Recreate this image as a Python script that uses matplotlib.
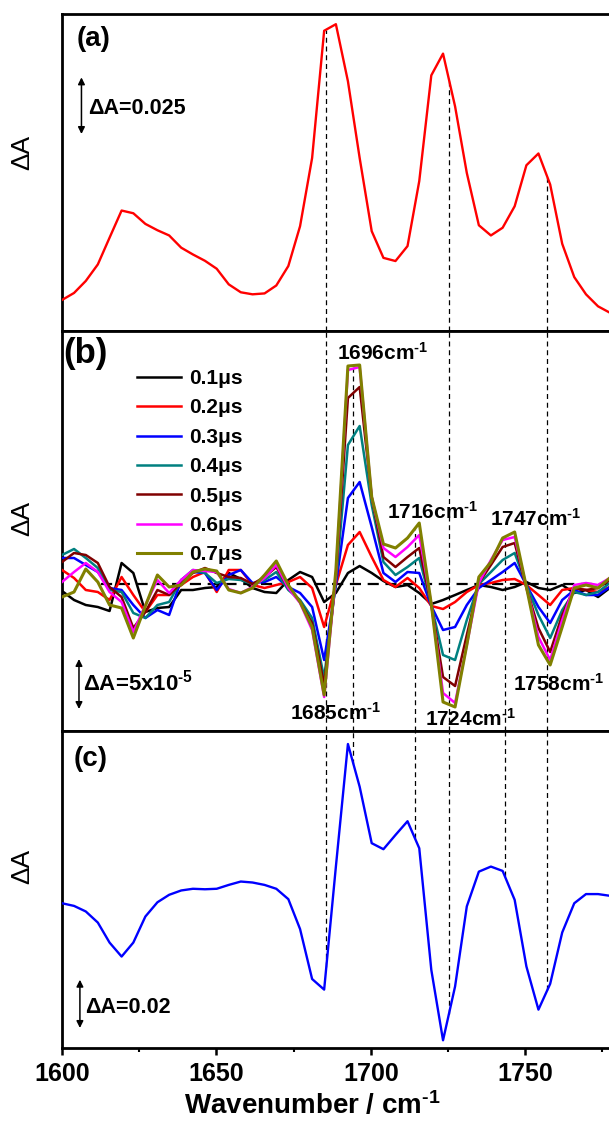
import matplotlib
matplotlib.use('Agg')
import numpy as np
import matplotlib.pyplot as plt

plt.rcParams['font.family'] = ['Liberation Sans', 'DejaVu Sans']
plt.rcParams['font.weight'] = 'bold'
plt.rcParams['mathtext.fontset'] = 'custom'
plt.rcParams['mathtext.rm'] = 'Liberation Sans:bold'
plt.rcParams['mathtext.it'] = 'Liberation Sans:bold'
plt.rcParams['mathtext.bf'] = 'Liberation Sans:bold'

# wavenumber grid (cm-1)
wn = [1600.0, 1603.9, 1607.7, 1611.6, 1615.4, 1619.3, 1623.1, 1627.0, 1630.9, 1634.7,
      1638.6, 1642.4, 1646.3, 1650.1, 1654.0, 1657.9, 1661.7, 1665.6, 1669.4, 1673.3,
      1677.1, 1681.0, 1684.9, 1688.7, 1692.6, 1696.4, 1700.3, 1704.1, 1708.0, 1711.9,
      1715.7, 1719.6, 1723.4, 1727.3, 1731.1, 1735.0, 1738.9, 1742.7, 1746.6, 1750.4,
      1754.3, 1758.1, 1762.0, 1765.9, 1769.7, 1773.6, 1777.4]

# (a) spectrum, dA x 1e3
spec_a = [13.7, 16.8, 22.1, 29.4, 41.2, 53.2, 52.0, 47.3, 44.5, 42.2,
          36.8, 33.8, 31.0, 27.5, 20.6, 17.1, 16.2, 16.6, 20.1, 28.7,
          46.3, 76.4, 132.6, 135.5, 110.3, 76.4, 44.1, 32.3, 30.9, 37.5,
          66.2, 112.9, 122.5, 99.2, 69.8, 46.7, 42.2, 45.6, 55.1, 73.2,
          78.4, 64.7, 38.5, 23.8, 16.2, 10.9, 8.1]

# (b) time-resolved difference spectra, dA x 1e5
delays = ['0.1\u03bcs', '0.2\u03bcs', '0.3\u03bcs', '0.4\u03bcs', '0.5\u03bcs', '0.6\u03bcs', '0.7\u03bcs']
colors_b = ['black', '#ff0000', '#0000ff', '#008080', '#800000', '#ff00ff', '#808000']

b_01 = [-0.7, -1.6, -2.1, -2.3, -2.7, 2.1, 1.1, -2.8, -2.4, -2.3,
        -0.6, -0.6, -0.4, -0.3, 1.1, 0.5, -0.4, -0.8, -0.9, 0.4,
        1.2, 0.7, -1.8, -0.9, 1.1, 1.8, 1.1, 0.3, -0.3, -0.1,
        -0.9, -2.0, -1.6, -1.1, -0.6, -0.1, -0.3, -0.6, -0.3, 0.2,
        -0.4, -0.6, -0.1, -0.9, -0.6, -1.3, -0.4]
b_02 = [1.4, 0.6, -0.6, -0.8, -1.6, 0.7, -1.1, -2.8, -1.1, -1.1,
        -0.1, 0.7, 1.2, -0.8, 1.4, 1.4, -0.1, -0.4, -0.1, 0.2,
        0.7, -0.4, -4.3, -0.1, 3.9, 5.2, 2.7, 0.4, -0.3, 0.6,
        -0.4, -2.2, -2.5, -1.8, -0.8, -0.1, 0.1, 0.4, 0.5, -0.1,
        -1.1, -2.1, -0.6, -0.4, -0.6, -0.8, -0.3]
b_03 = [2.6, 2.6, 1.9, 1.2, -0.4, -0.6, -2.1, -3.4, -2.6, -3.1,
        0.4, 1.2, 1.1, -0.6, 0.9, 1.4, 0.1, 0.2, 0.7, -0.3,
        -0.9, -2.3, -7.6, -0.1, 8.6, 10.2, 5.7, 1.1, 0.2, 1.2,
        1.1, -2.2, -4.6, -4.3, -2.1, -0.4, 0.4, 1.2, 2.1, -0.1,
        -2.3, -3.9, -1.6, -0.6, -1.1, -1.1, -0.3]
b_04 = [2.9, 3.5, 2.6, 1.6, -0.6, -0.8, -2.9, -3.4, -2.1, -1.8,
        0.4, 1.4, 1.1, 0.1, 0.5, 0.4, 0.0, 0.4, 1.2, -0.6,
        -1.6, -3.4, -9.4, 0.2, 13.9, 15.8, 7.9, 2.2, 0.9, 1.7,
        2.6, -2.1, -7.1, -7.6, -3.6, 0.0, 1.2, 2.4, 3.1, -0.1,
        -3.1, -5.4, -2.6, -0.8, -1.1, -0.8, 0.1]
b_05 = [2.2, 3.1, 2.9, 2.1, -0.3, -1.3, -4.4, -2.8, -0.6, -1.1,
        0.1, 1.1, 1.6, 1.1, 0.7, 0.6, 0.0, 0.7, 1.7, -0.4,
        -1.8, -3.9, -10.1, 0.6, 18.6, 19.7, 8.7, 2.7, 1.7, 2.7,
        3.6, -2.1, -9.3, -10.2, -5.1, 0.1, 1.9, 3.7, 4.1, -0.4,
        -4.4, -6.8, -3.1, -0.4, -0.6, -0.4, 0.4]
b_06 = [0.2, 1.2, 2.1, 1.2, -0.8, -1.8, -4.8, -2.1, 0.4, -0.9,
        0.4, 1.4, 1.3, 1.2, -0.5, -0.9, -0.3, 0.6, 1.9, -0.4,
        -1.9, -4.6, -11.3, 0.9, 21.4, 21.7, 8.7, 3.6, 2.7, 3.7,
        4.9, -2.0, -10.9, -11.9, -6.1, 0.1, 2.4, 4.4, 4.7, -0.3,
        -5.3, -7.6, -3.6, -0.1, 0.1, -0.1, 0.6]
b_07 = [-1.3, -0.8, 1.5, 0.2, -2.1, -2.4, -5.4, -2.2, 0.9, -0.3,
        -0.1, 1.2, 1.5, 1.3, -0.6, -0.9, -0.4, 0.9, 2.3, -0.1,
        -1.8, -4.3, -11.1, 1.4, 21.8, 21.9, 8.7, 4.0, 3.6, 4.6,
        6.1, -2.0, -11.8, -12.3, -6.1, 0.7, 2.2, 4.6, 5.2, -0.3,
        -6.1, -8.1, -4.3, -0.4, -0.1, -0.4, 0.6]
series_b = [b_01, b_02, b_03, b_04, b_05, b_06, b_07]

# (c) spectrum, dA x 1e3
spec_c = [60.0, 58.9, 56.6, 52.0, 43.7, 37.9, 43.7, 54.5, 60.4, 63.5,
          65.3, 66.0, 65.8, 66.0, 67.6, 69.0, 68.6, 67.6, 66.0, 61.7,
          49.3, 28.6, 24.2, 75.2, 126.0, 108.3, 84.9, 82.4, 88.3, 94.0,
          82.8, 32.4, 3.2, 25.5, 58.7, 73.1, 75.2, 73.4, 61.4, 33.8,
          15.9, 26.6, 47.9, 60.0, 63.8, 63.8, 63.1]

# positions of the guide lines
full_lines = [1685.6, 1725.3, 1757.2]
peak_lines = [1694.4, 1714.2, 1743.4]

fig = plt.figure(figsize=(6.09, 11.23), dpi=100)
left, width = 62 / 609, (617.8 - 62) / 609
ax_a = fig.add_axes([left, 1 - 331 / 1123, width, 317 / 1123])
ax_b = fig.add_axes([left, 1 - 731 / 1123, width, 400 / 1123])
ax_c = fig.add_axes([left, 1 - 1048 / 1123, width, 317 / 1123])

for ax in (ax_a, ax_b, ax_c):
    ax.set_xlim(1600, 1780)
    for s in ax.spines.values():
        s.set_linewidth(2.0)
    ax.set_yticks([])
    ax.tick_params(axis='x', which='both', bottom=False, labelbottom=False)

ax_a.set_ylim(0, 140)
ax_b.set_ylim(-14.7, 25.3)
ax_c.set_ylim(0, 131.4)

dash_kw = dict(color='black', lw=0.9, linestyle=(0, (4, 3)), zorder=1)
arrow_kw = dict(arrowstyle='<|-|>', lw=1.1, color='black',
                mutation_scale=10, shrinkA=0, shrinkB=0)
sup = '$^{\\text{-1}}$'

# ---- panel (a)
ax_a.plot(wn, spec_a, color='#ff0000', lw=1.7, zorder=3)
for x in full_lines:
    ax_a.vlines(x, 0, np.interp(x, wn, spec_a), **dash_kw)
ax_a.text(1604.8, 129, '(a)', fontsize=20, fontweight='bold', va='center')
ax_a.annotate('', xy=(1606.3, 112), xytext=(1606.3, 87), arrowprops=arrow_kw)
ax_a.text(1608.5, 98.1, '\u0394A=0.025', fontsize=15.5, fontweight='bold', va='center')

# ---- panel (b)
for vals, lab, col in zip(series_b, delays, colors_b):
    ax_b.plot(wn, vals, color=col, lw=2.2 if lab == '0.7\u03bcs' else 1.8, label=lab, zorder=3)
ax_b.hlines(0, 1612.5, 1780, color='black', lw=1.6, linestyle=(0, (5, 3)), zorder=2)
for x in full_lines:
    ax_b.vlines(x, -14.7, 25.3, **dash_kw)
for x in peak_lines:
    ax_b.vlines(x, -14.7, np.interp(x, wn, b_07), **dash_kw)

ax_b.legend(loc='upper left', bbox_to_anchor=(0.135, 0.905), frameon=False,
            handlelength=2.1, handletextpad=0.4, labelspacing=0.5,
            borderpad=0, borderaxespad=0, prop={'weight': 'bold', 'size': 15})
ax_b.text(1600.3, 23.1, '(b)', fontsize=25, fontweight='bold', va='center')

peak_labels = ['1696cm' + sup, '1716cm' + sup, '1747cm' + sup,
               '1685cm' + sup, '1724cm' + sup, '1758cm' + sup]
label_pos = [(1688.9, 23.1), (1705.2, 7.2), (1738.6, 6.5),
             (1673.8, -12.9), (1717.5, -13.5), (1746.2, -10.0)]
for t, (x, y) in zip(peak_labels, label_pos):
    ax_b.text(x, y, t, fontsize=15, fontweight='bold', va='center', zorder=4)

ax_b.annotate('', xy=(1605.5, -7.5), xytext=(1605.5, -12.5), arrowprops=arrow_kw)
ax_b.text(1606.8, -9.9, '\u0394A=5x10$^{\\text{-5}}$', fontsize=16, fontweight='bold', va='center')

# ---- panel (c)
ax_c.plot(wn, spec_c, color='#0000ff', lw=1.7, zorder=3)
for x in full_lines + peak_lines:
    ax_c.vlines(x, np.interp(x, wn, spec_c), 131.4, **dash_kw)
ax_c.text(1603.9, 119.6, '(c)', fontsize=20, fontweight='bold', va='center')
ax_c.annotate('', xy=(1605.8, 28.3), xytext=(1605.8, 8.3), arrowprops=arrow_kw)
ax_c.text(1607.6, 16.6, '\u0394A=0.02', fontsize=15.5, fontweight='bold', va='center')

ax_c.set_xticks([1600, 1650, 1700, 1750])
ax_c.set_xticks([1625, 1675, 1725, 1775], minor=True)
ax_c.tick_params(axis='x', which='both', bottom=True, labelbottom=True, direction='out')
ax_c.tick_params(axis='x', which='major', length=5, width=1.8, labelsize=18, pad=5)
ax_c.tick_params(axis='x', which='minor', length=3, width=1.5)
for lbl in ax_c.get_xticklabels():
    lbl.set_fontweight('bold')

fig.text(0.513, 0.0151, 'Wavenumber / cm' + sup, fontsize=20, fontweight='bold',
         ha='center', va='center')
for yy in (1 - 152 / 1123, 1 - 518 / 1123, 1 - 866 / 1123):
    fig.text(22 / 609, yy, '\u0394A', fontsize=19, fontweight='normal',
             rotation=90, ha='center', va='center')

fig.savefig('out.png', dpi=100)
